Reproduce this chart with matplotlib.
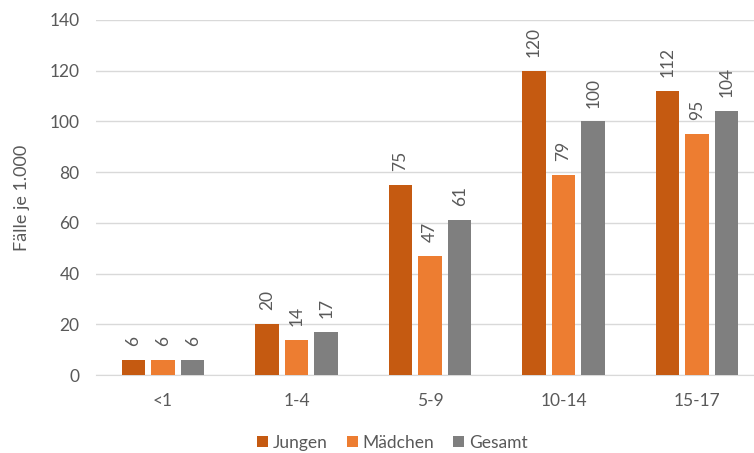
import numpy as np
import matplotlib
matplotlib.use("Agg")
from matplotlib import pyplot as plt

# data
categories = ["<1", "1-4", "5-9", "10-14", "15-17"]
jungen = [6, 20, 75, 120, 112]
maedchen = [6, 14, 47, 79, 95]
gesamt = [6, 17, 61, 100, 104]
series_names = ["Jungen", "Mädchen", "Gesamt"]

plt.rcParams['font.family'] = ['Lato', 'DejaVu Sans']
text_color = '#595959'

fig = plt.figure(figsize=(7.54, 4.53), dpi=100)
ax = fig.add_axes([0.1277, 0.172, 0.8723, 0.784])

colors = ['#C55A11', '#ED7D31', '#7F7F7F']
x = np.arange(len(categories))
width = 0.176
step = 0.222

for i, (vals, name, c) in enumerate(zip([jungen, maedchen, gesamt], series_names, colors)):
    pos = x + (i - 1) * step
    bars = ax.bar(pos, vals, width, color=c, label=name, zorder=3)
    for b, v in zip(bars, vals):
        ax.annotate(str(v), (b.get_x() + b.get_width() / 2, v),
                    xytext=(0, 10), textcoords='offset points',
                    rotation=90, ha='center', va='bottom',
                    fontsize=12.5, color=text_color)

# plot area runs past the right edge of the picture
ax.set_xlim(-0.5, 4.427)
ax.set_ylim(0, 140)
ax.set_yticks(range(0, 141, 20))
ax.set_xticks(x)
ax.set_xticklabels(categories)
ax.grid(axis='y', color='#D9D9D9', linewidth=1, zorder=0)
for s in ['top', 'right', 'left']:
    ax.spines[s].set_visible(False)
ax.spines['bottom'].set_color('#D9D9D9')
ax.tick_params(axis='both', length=0, labelsize=12.5, colors=text_color)
ax.tick_params(axis='y', pad=12)
ax.tick_params(axis='x', pad=13)
ax.set_ylabel("Fälle je 1.000", fontsize=13, color=text_color, labelpad=14)

ax.legend(loc='center', bbox_to_anchor=(0.45, -0.19), ncol=3, frameon=False,
          fontsize=12.5, handlelength=0.65, handleheight=0.65, handletextpad=0.25,
          columnspacing=1.1, labelcolor=text_color)

fig.savefig("out.png", dpi=100)
